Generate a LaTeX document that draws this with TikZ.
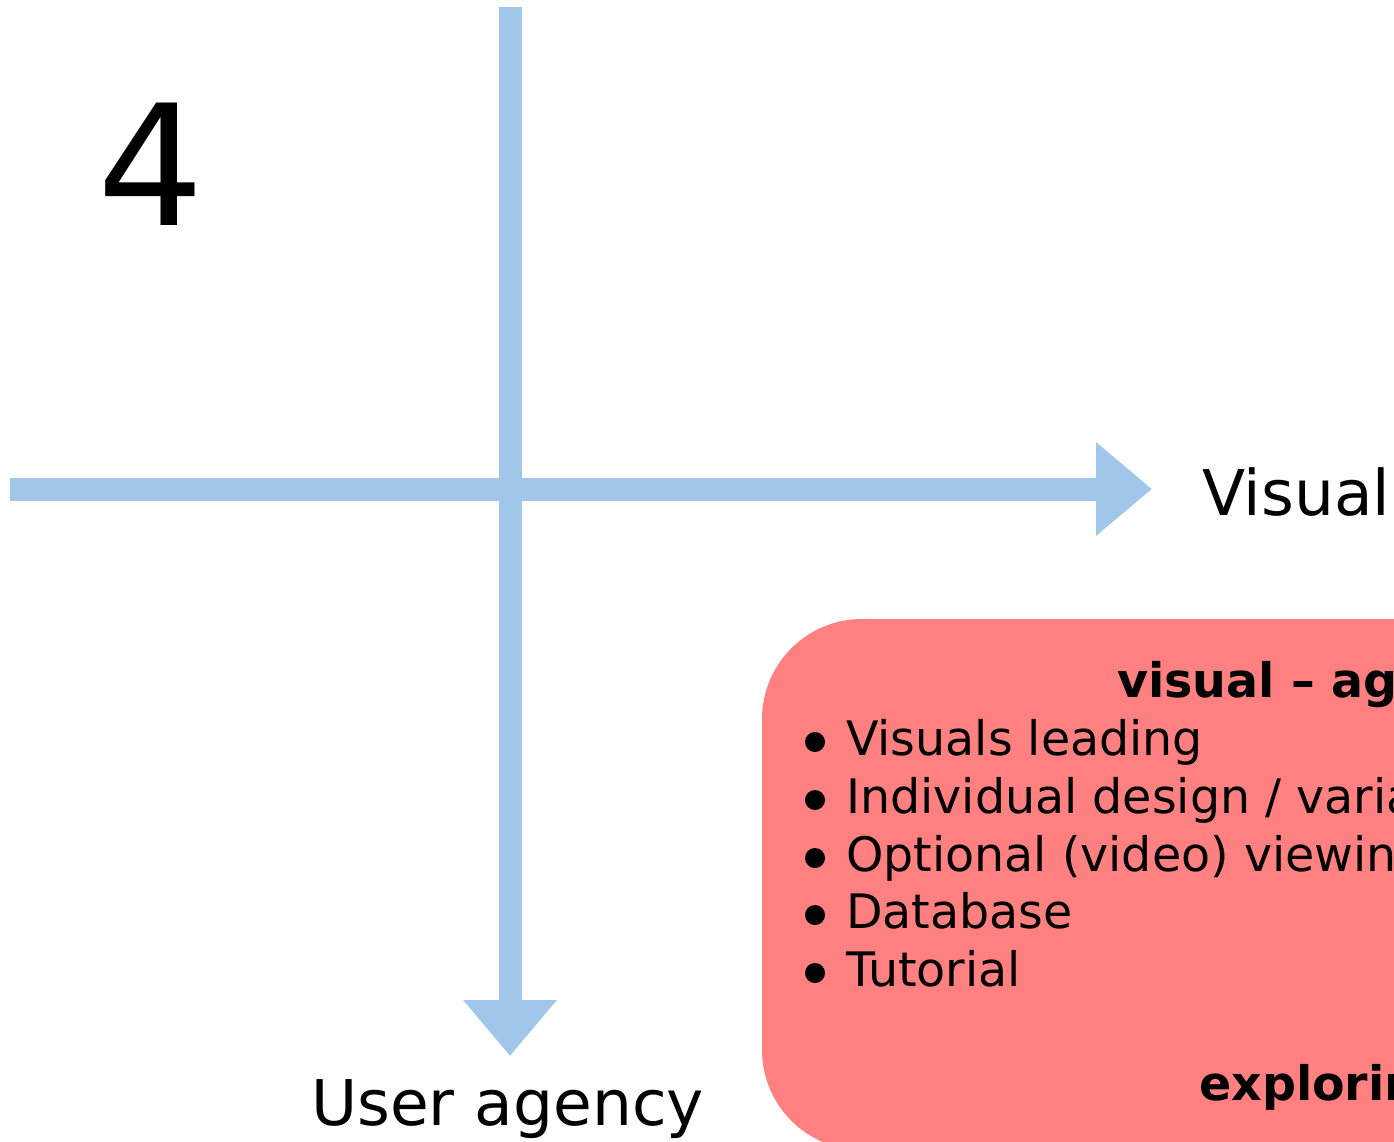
\documentclass[tikz,border=0pt]{standalone}
\usepackage{fontspec}
\setmainfont{DejaVu Sans}
\usetikzlibrary{arrows.meta}
\definecolor{axisblue}{RGB}{160,199,234}
\definecolor{boxred}{RGB}{255,128,128}
\tikzset{
  axis/.style={draw=axisblue, line width=23pt, line cap=butt,
    -{Triangle[length=56pt 0 0, width=90pt 0 0]}},
  bigdigit/.style={inner sep=0pt, font=\fontsize{168}{168}\selectfont},
  axislabel/.style={inner sep=0pt, anchor=base west, font=\fontsize{63}{63}\selectfont},
  itemtext/.style={inner sep=0pt, anchor=base west, font=\fontsize{47.5}{47.5}\selectfont},
  headtext/.style={inner sep=0pt, anchor=base west, font=\fontsize{47.5}{47.5}\selectfont\bfseries},
  dot/.style={circle, fill=black, inner sep=0pt, minimum size=20pt},
}
\begin{document}
\begin{tikzpicture}[x=1pt, y=-1pt]
\useasboundingbox (0,0) rectangle (1394,1141);
\clip (0,0) rectangle (1394,1141);

% quadrant number
\node[bigdigit] (num) at (151,164) {4};

% axes
\coordinate (vtop) at (510,7);
\coordinate (vend) at (510,1056);
\coordinate (hstart) at (10,489);
\coordinate (hend) at (1152,489);
\draw[axis] (vtop) -- (vend);
\draw[axis] (hstart) -- (hend);

\node[axislabel] (xlabel) at (1202,515) {Visual};
\node[axislabel] (ylabel) at (311,1125) {User agency};

% quadrant box
\fill[boxred, rounded corners=100pt] (762,619) rectangle (1560,1150);

\node[headtext] (head) at (1117,697) {visual – agency};
\foreach \y/\txt/\nm in {755/{Visuals leading}/a,
                         813/{Individual design / variation}/b,
                         871/{Optional (video) viewing}/c,
                         928/{Database}/d,
                         986/{Tutorial}/e}{
  \node[dot] (dot\nm) at (815,\y-13) {};
  \node[itemtext] (item\nm) at (846,\y) {\txt};
}
\node[headtext] (foot) at (1199,1100) {exploring};
\end{tikzpicture}
\end{document}
